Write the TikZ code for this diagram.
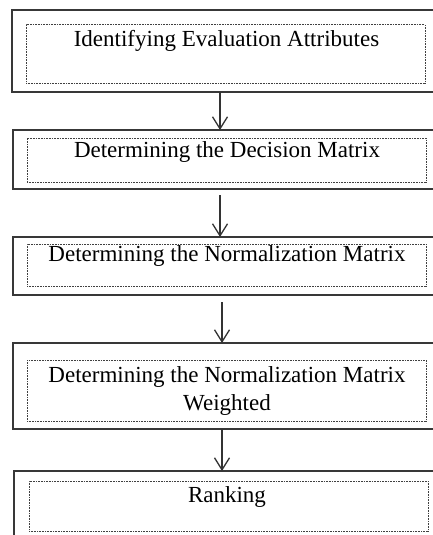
\documentclass[tikz,border=0pt]{standalone}
\usepackage{fontspec}
\setmainfont{Liberation Serif}
\usetikzlibrary{arrows.meta}
\tikzset{
  outerbox/.style={draw=black!78, line width=1.5pt, inner sep=0pt, outer sep=0pt, rectangle},
  innerbox/.style={draw=black!75, line width=1pt, dash pattern=on 1pt off 0.6pt, inner sep=0pt, outer sep=0pt, rectangle},
  label/.style={inner sep=0pt, font=\fontsize{23}{28}\selectfont, anchor=base, align=center},
  flow/.style={draw=black!80, line width=1.3pt, -{Straight Barb[length=12pt,width=15pt]}}
}
\begin{document}
\begin{tikzpicture}[x=1pt,y=-1pt]
\useasboundingbox (0,0) rectangle (433,535);
\clip (0,0) rectangle (433,535);
% box 1
\node[outerbox, minimum width=427pt, minimum height=82pt] (o1) at (225.5,51) {};
\node[innerbox, minimum width=399pt, minimum height=58pt] (i1) at (225.5,54) {};
\node[label] (t1) at (226.5,47) {Identifying Evaluation Attributes};
% box 2
\node[outerbox, minimum width=427pt, minimum height=59pt] (o2) at (226.5,159.5) {};
\node[innerbox, minimum width=399pt, minimum height=44pt] (i2) at (226.5,160) {};
\node[label] (t2) at (227,157.5) {Determining the Decision Matrix};
% box 3
\node[outerbox, minimum width=427pt, minimum height=58pt] (o3) at (226.5,266) {};
\node[innerbox, minimum width=399pt, minimum height=42pt] (i3) at (226.5,265) {};
\node[label] (t3) at (227,261.5) {Determining the Normalization Matrix};
% box 4
\node[outerbox, minimum width=427pt, minimum height=86pt] (o4) at (226.5,386) {};
\node[innerbox, minimum width=399pt, minimum height=61pt] (i4) at (226.5,390.5) {};
\node[label] (t4) at (227,410) {Determining the Normalization Matrix\\Weighted};
% box 5
\node[outerbox, minimum width=427pt, minimum height=74pt] (o5) at (227.5,508) {};
\node[innerbox, minimum width=399pt, minimum height=50pt] (i5) at (228.5,506) {};
\node[label] (t5) at (227,502) {Ranking};
% arrow axis
\coordinate (a1) at (220,0);
\coordinate (a2) at (220,0);
\coordinate (a3) at (222,0);
\coordinate (a4) at (222,0);
\draw[flow] (o1.south -| a1) -- (o2.north -| a1);
\draw[flow, shorten <=6pt] (o2.south -| a2) -- (o3.north -| a2);
\draw[flow, shorten <=7pt] (o3.south -| a3) -- (o4.north -| a3);
\draw[flow] (o4.south -| a4) -- (o5.north -| a4);
\end{tikzpicture}
\end{document}
